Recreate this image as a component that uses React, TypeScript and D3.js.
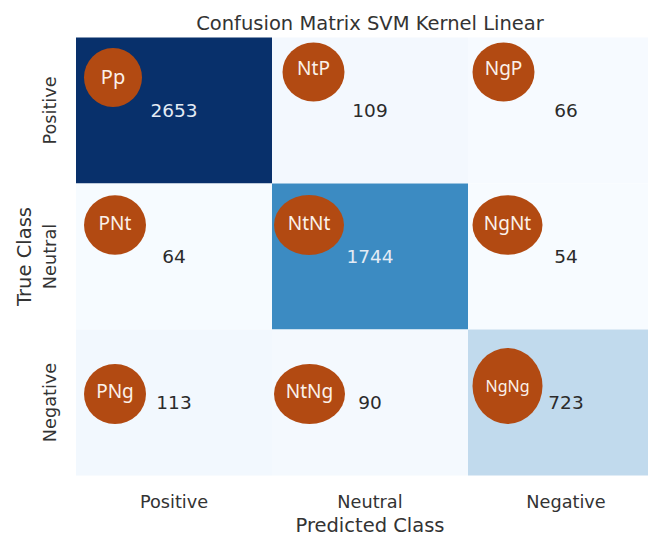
import React from "react";
import * as d3 from "d3";

// ---- data ----
const trueClasses = ["Positive", "Neutral", "Negative"];
const predictedClasses = ["Positive", "Neutral", "Negative"];
const rowPositive = [2653, 109, 66];
const rowNeutral = [64, 1744, 54];
const rowNegative = [113, 90, 723];
const tagsPositive = ["Pp", "NtP", "NgP"];
const tagsNeutral = ["PNt", "NtNt", "NgNt"];
const tagsNegative = ["PNg", "NtNg", "NgNg"];
const titleText = "Confusion Matrix SVM Kernel Linear";
const xLabel = "Predicted Class";
const yLabel = "True Class";

const values = [rowPositive, rowNeutral, rowNegative];
const tags = [tagsPositive, tagsNeutral, tagsNegative];

// ---- layout (badge placement inside each cell, px from cell top-left) ----
const badgeLayout: { dx: number; dy: number; rx: number; ry: number; fs: number; ty: number }[][] = [
  [
    { dx: 37, dy: 40, rx: 29, ry: 29.5, fs: 20, ty: 6 },
    { dx: 41.5, dy: 34.5, rx: 31, ry: 29.5, fs: 19, ty: 3 },
    { dx: 35.5, dy: 34.5, rx: 31, ry: 29.5, fs: 19, ty: 3 },
  ],
  [
    { dx: 39, dy: 41.5, rx: 31, ry: 29.7, fs: 19, ty: 5 },
    { dx: 37, dy: 41.5, rx: 35, ry: 30, fs: 19, ty: 5 },
    { dx: 39.5, dy: 41.5, rx: 35, ry: 29.7, fs: 19, ty: 5 },
  ],
  [
    { dx: 39, dy: 64.5, rx: 31, ry: 30, fs: 19, ty: 4 },
    { dx: 37.5, dy: 64.5, rx: 35.5, ry: 30, fs: 19, ty: 4 },
    { dx: 39.5, dy: 56.5, rx: 35, ry: 38, fs: 16, ty: 6 },
  ],
];

const W = 648;
const H = 538;
const left = 76;
const top = 37.5;
const cellW = 196;
const cellH = 146;

export default function App() {
  const x = d3
    .scaleBand<string>()
    .domain(predictedClasses)
    .range([left, left + cellW * predictedClasses.length]);
  const y = d3
    .scaleBand<string>()
    .domain(trueClasses)
    .range([top, top + cellH * trueClasses.length]);
  const all = values.flat();
  const vmin = d3.min(all) as number;
  const vmax = d3.max(all) as number;
  const color = d3.scaleSequential(d3.interpolateBlues).domain([vmin, vmax]);
  const font = "DejaVu Sans, sans-serif";
  const badgeFont = "Noto Sans, Open Sans, sans-serif";

  return (
    <svg
      width={W}
      height={H}
      style={{ position: "absolute", left: 0, top: 0, background: "#fff" }}
    >
      <text
        x={left + (cellW * 3) / 2}
        y={30}
        textAnchor="middle"
        fontFamily={font}
        fontSize={19.5}
        fill="#333"
      >
        {titleText}
      </text>
      {values.map((row, i) =>
        row.map((v, j) => {
          const cx = x(predictedClasses[j]) as number;
          const cy = y(trueClasses[i]) as number;
          const frac = (v - vmin) / (vmax - vmin);
          return (
            <g key={`c${i}-${j}`}>
              <rect
                x={cx}
                y={cy}
                width={x.bandwidth()}
                height={y.bandwidth()}
                fill={color(v)}
              />
              <text
                x={cx + x.bandwidth() / 2}
                y={cy + y.bandwidth() / 2 + 6.5}
                textAnchor="middle"
                fontFamily={font}
                fontSize={18.5}
                fill={frac > 0.5 ? "#e3ebf5" : "#2b2b2b"}
              >
                {v}
              </text>
            </g>
          );
        })
      )}
      {tags.map((row, i) =>
        row.map((t, j) => {
          const L = badgeLayout[i][j];
          const bx = (x(predictedClasses[j]) as number) + L.dx;
          const by = (y(trueClasses[i]) as number) + L.dy;
          return (
            <g key={`b${i}-${j}`}>
              <ellipse cx={bx} cy={by} rx={L.rx} ry={L.ry} fill="#b24a12" />
              <text
                x={bx}
                y={by + L.ty}
                textAnchor="middle"
                fontFamily={badgeFont}
                fontSize={L.fs}
                fill="#fbf1ea"
              >
                {t}
              </text>
            </g>
          );
        })
      )}
      {predictedClasses.map((c) => (
        <text
          key={`xt${c}`}
          x={(x(c) as number) + x.bandwidth() / 2}
          y={508}
          textAnchor="middle"
          fontFamily={font}
          fontSize={17.7}
          fill="#333"
        >
          {c}
        </text>
      ))}
      {trueClasses.map((c) => {
        const cy = (y(c) as number) + y.bandwidth() / 2;
        return (
          <text
            key={`yt${c}`}
            transform={`translate(56,${cy}) rotate(-90)`}
            textAnchor="middle"
            fontFamily={font}
            fontSize={17.7}
            fill="#333"
          >
            {c}
          </text>
        );
      })}
      <text
        x={left + (cellW * 3) / 2}
        y={532}
        textAnchor="middle"
        fontFamily={font}
        fontSize={19.5}
        fill="#333"
      >
        {xLabel}
      </text>
      <text
        transform={`translate(31,${top + (cellH * 3) / 2}) rotate(-90)`}
        textAnchor="middle"
        fontFamily={font}
        fontSize={19.5}
        fill="#333"
      >
        {yLabel}
      </text>
    </svg>
  );
}
